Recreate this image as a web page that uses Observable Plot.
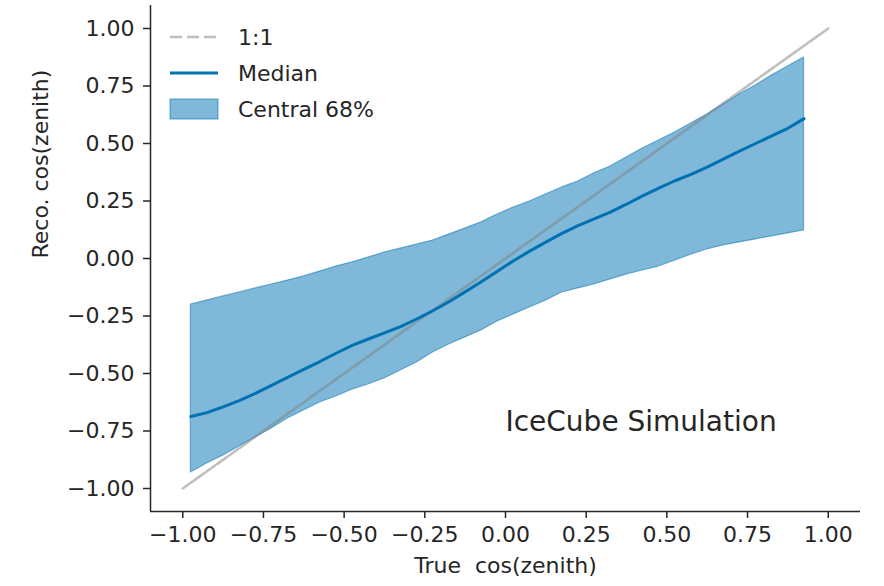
<!DOCTYPE html>
<html><head><meta charset="utf-8">
<script src="https://cdn.jsdelivr.net/npm/d3@7"></script>
<script src="https://cdn.jsdelivr.net/npm/@observablehq/plot@0.6"></script>
<style>body{margin:0;background:#fff} svg{font-family:"DejaVu Sans"}</style>
</head><body><div id="chart"></div><script>
const trueCos = [-0.975,-0.925,-0.875,-0.825,-0.775,-0.725,-0.675,-0.625,-0.575,-0.525,-0.475,-0.425,-0.375,-0.325,-0.275,-0.225,-0.175,-0.125,-0.075,-0.025,0.025,0.075,0.125,0.175,0.225,0.275,0.325,0.375,0.425,0.475,0.525,0.575,0.625,0.675,0.725,0.775,0.825,0.875,0.925];
const median = [-0.687,-0.670,-0.645,-0.618,-0.586,-0.552,-0.517,-0.482,-0.448,-0.412,-0.378,-0.350,-0.323,-0.296,-0.263,-0.227,-0.188,-0.145,-0.101,-0.055,-0.010,0.032,0.071,0.109,0.143,0.172,0.202,0.236,0.272,0.306,0.338,0.366,0.397,0.432,0.467,0.500,0.533,0.566,0.608];
const upper = [-0.200,-0.183,-0.165,-0.148,-0.130,-0.113,-0.096,-0.078,-0.057,-0.035,-0.017,0.004,0.026,0.043,0.061,0.078,0.104,0.130,0.157,0.191,0.222,0.248,0.278,0.309,0.335,0.370,0.400,0.439,0.478,0.513,0.548,0.587,0.626,0.670,0.713,0.752,0.796,0.835,0.874];
const lower = [-0.930,-0.891,-0.857,-0.817,-0.778,-0.739,-0.696,-0.661,-0.626,-0.600,-0.570,-0.548,-0.522,-0.487,-0.452,-0.409,-0.374,-0.343,-0.313,-0.274,-0.243,-0.213,-0.183,-0.148,-0.130,-0.113,-0.091,-0.070,-0.052,-0.035,-0.009,0.017,0.039,0.057,0.070,0.083,0.096,0.109,0.122];
const oneToOne = [-1, 1];
const xTicks = [-1, -0.75, -0.5, -0.25, 0, 0.25, 0.5, 0.75, 1];
const yTicks = [-1, -0.75, -0.5, -0.25, 0, 0.25, 0.5, 0.75, 1];
const axisDomain = [-1.1, 1.1];
const xLabel = "True\u00a0 cos(zenith)";
const yLabel = "Reco. cos(zenith)";
const legendLabels = ["1:1", "Median", "Central 68%"];
const annotation = [{x: 0.42, y: -0.71, text: "IceCube Simulation"}];

const data = trueCos.map((x, i) => ({x, med: median[i], lo: lower[i], hi: upper[i]}));
const diag = oneToOne.map(v => ({x: v, y: v}));
const ink = "#262626";
const blue = "#0072B2";
const fmt = d3.format(".2f");

const chart = Plot.plot({
  width: 884, height: 586,
  marginLeft: 150, marginRight: 24, marginTop: 5, marginBottom: 75,
  style: {fontFamily: "DejaVu Sans", fontSize: "22px", color: ink, background: "white"},
  x: {domain: axisDomain},
  y: {domain: axisDomain},
  marks: [
    Plot.areaY(data, {x: "x", y1: "lo", y2: "hi", fill: blue, fillOpacity: 0.5, stroke: blue, strokeOpacity: 0.5, strokeWidth: 1.2}),
    Plot.line(diag, {x: "x", y: "y", stroke: "gray", strokeOpacity: 0.5, strokeWidth: 2.6, strokeDasharray: "12,2"}),
    Plot.line(data, {x: "x", y: "med", stroke: blue, strokeWidth: 3}),
    Plot.axisX({ticks: xTicks, tickFormat: fmt, tickSize: 7, tickPadding: 8, fontSize: 22, color: ink, strokeWidth: 1.5, label: null}),
    Plot.axisY({ticks: yTicks, tickFormat: fmt, tickSize: 7, tickPadding: 9, fontSize: 22, color: ink, strokeWidth: 1.5, label: null}),
    Plot.ruleX([axisDomain[0]], {stroke: ink, strokeWidth: 1.5}),
    Plot.ruleY([axisDomain[0]], {stroke: ink, strokeWidth: 1.5}),
    Plot.text(annotation, {x: "x", y: "y", text: "text", fontSize: 28, fill: ink}),
    Plot.text([xLabel], {frameAnchor: "bottom", dy: 61, fontSize: 22, fill: ink}),
    Plot.text([yLabel], {frameAnchor: "left", dx: -110, rotate: -90, fontSize: 22, fill: ink})
  ]
});
document.getElementById("chart").appendChild(chart);

// legend (upper-left, inside axes)
const svg = d3.select(chart);
const lg = svg.append("g").attr("font-family", "DejaVu Sans").attr("font-size", 22)
  .attr("fill", ink).attr("text-anchor", "start");
const rows = [37, 73, 109];
lg.append("line").attr("x1", 170).attr("x2", 218).attr("y1", rows[0]).attr("y2", rows[0])
  .attr("stroke", "gray").attr("stroke-opacity", 0.5).attr("stroke-width", 2.6).attr("stroke-dasharray", "12,5");
lg.append("line").attr("x1", 170).attr("x2", 218).attr("y1", rows[1]).attr("y2", rows[1])
  .attr("stroke", blue).attr("stroke-width", 3);
lg.append("rect").attr("x", 170).attr("y", rows[2] - 10).attr("width", 48).attr("height", 20)
  .attr("fill", blue).attr("fill-opacity", 0.5).attr("stroke", blue).attr("stroke-opacity", 0.5).attr("stroke-width", 1.2);
legendLabels.forEach((t, i) => {
  lg.append("text").attr("x", 238).attr("y", rows[i]).attr("dy", "0.35em").attr("text-anchor", "start").text(t);
});
</script></body></html>
